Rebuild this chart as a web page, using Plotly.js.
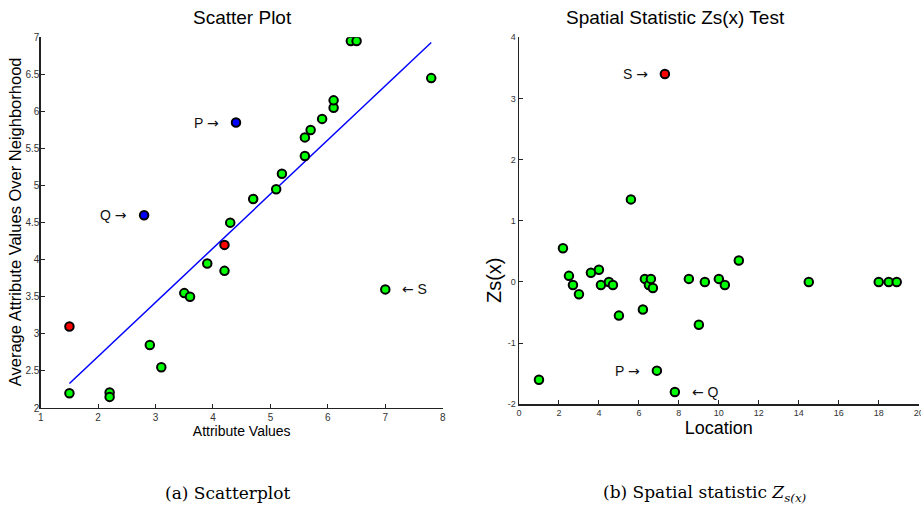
<!DOCTYPE html>
<html>
<head>
<meta charset="utf-8">
<script src="https://cdn.plot.ly/plotly-3.0.1.min.js"></script>
<style>
html,body{margin:0;padding:0;background:#fff;}
#chart{width:921px;height:510px;}
</style>
</head>
<body>
<div id="chart"></div>
<script>
// ---- Data: (a) Scatter plot ----
const scatterGreenX = [1.5, 2.2, 2.2, 2.9, 3.1, 3.5, 3.6, 3.9, 4.2, 4.3, 4.7, 5.1, 5.2, 5.6, 5.6, 5.7, 5.9, 6.1, 6.1, 6.4, 6.5, 7.8, 7.0];
const scatterGreenY = [2.2, 2.21, 2.15, 2.85, 2.55, 3.55, 3.5, 3.95, 3.85, 4.5, 4.82, 4.95, 5.16, 5.4, 5.65, 5.75, 5.9, 6.05, 6.15, 6.95, 6.95, 6.45, 3.6];
const scatterRedX = [1.5, 4.2];
const scatterRedY = [3.1, 4.2];
const scatterBlueX = [4.4, 2.8];
const scatterBlueY = [5.85, 4.6];
const fitLineX = [1.5, 7.8];
const fitLineY = [2.33, 6.93];
const scatterLabels = [
  {name: 'P', x: 4.4, y: 5.85, side: 'left'},
  {name: 'Q', x: 2.8, y: 4.6, side: 'left'},
  {name: 'S', x: 7.0, y: 3.6, side: 'right'}
];
const scatterXTicks = [1, 2, 3, 4, 5, 6, 7, 8];
const scatterYTicks = [2, 2.5, 3, 3.5, 4, 4.5, 5, 5.5, 6, 6.5, 7];

// ---- Data: (b) Spatial statistic Zs(x) ----
const zsGreenX = [1.0, 2.2, 2.5, 2.7, 3.0, 3.6, 4.0, 4.1, 4.5, 4.7, 5.0, 5.6, 6.2, 6.3, 6.5, 6.6, 6.7, 6.9, 7.8, 8.5, 9.0, 9.3, 10.0, 10.3, 11.0, 14.5, 18.0, 18.5, 18.9];
const zsGreenY = [-1.6, 0.55, 0.1, -0.05, -0.2, 0.15, 0.2, -0.05, 0.0, -0.05, -0.55, 1.35, -0.45, 0.05, -0.05, 0.05, -0.1, -1.45, -1.8, 0.05, -0.7, 0.0, 0.05, -0.05, 0.35, 0.0, 0.0, 0.0, 0.0];
const zsRedX = [7.3];
const zsRedY = [3.4];
const zsLabels = [
  {name: 'S', x: 7.3, y: 3.4, side: 'left'},
  {name: 'P', x: 6.9, y: -1.45, side: 'left'},
  {name: 'Q', x: 7.8, y: -1.8, side: 'right'}
];
const zsXTicks = [0, 2, 4, 6, 8, 10, 12, 14, 16, 18, 20];
const zsYTicks = [-2, -1, 0, 1, 2, 3, 4];

// ---- Styling ----
const FONT = 'Liberation Sans, Arial, Helvetica, sans-serif';
const markerStyle = (color) => ({color: color, size: 8.5, line: {color: '#000', width: 2}});

const traces = [
  {x: fitLineX, y: fitLineY, xaxis: 'x', yaxis: 'y', mode: 'lines', line: {color: '#0000ff', width: 1.5}, hoverinfo: 'skip'},
  {x: scatterGreenX, y: scatterGreenY, xaxis: 'x', yaxis: 'y', mode: 'markers', marker: markerStyle('#00ff00')},
  {x: scatterRedX, y: scatterRedY, xaxis: 'x', yaxis: 'y', mode: 'markers', marker: markerStyle('#ff0000')},
  {x: scatterBlueX, y: scatterBlueY, xaxis: 'x', yaxis: 'y', mode: 'markers', marker: markerStyle('#0000ff')},
  {x: zsGreenX, y: zsGreenY, xaxis: 'x2', yaxis: 'y2', mode: 'markers', marker: markerStyle('#00ff00')},
  {x: zsRedX, y: zsRedY, xaxis: 'x2', yaxis: 'y2', mode: 'markers', marker: markerStyle('#ff0000')}
];

const baseAxis = {
  showline: true, linecolor: '#222', linewidth: 1.3,
  ticks: 'inside', ticklen: 4, tickcolor: '#222', tickwidth: 1,
  showgrid: false, zeroline: false, mirror: false,
  tickmode: 'array', ticklabeloverflow: 'allow'
};

const ARROW_R = '<span style="font-family:DejaVu Sans">\u2192</span>';
const ARROW_L = '<span style="font-family:DejaVu Sans">\u2190</span>';

function labelAnn(l, xref, yref) {
  const left = l.side === 'left';
  return {
    text: left ? (l.name + ' ' + ARROW_R) : (ARROW_L + ' ' + l.name),
    x: l.x, y: l.y, xref: xref, yref: yref, showarrow: false,
    xanchor: left ? 'right' : 'left', yanchor: 'middle',
    xshift: left ? -15 : 15,
    font: {family: FONT, size: 14, color: '#111'}
  };
}

const annotations = [
  {text: 'Scatter Plot', x: 0.2628, y: 0.965, xref: 'paper', yref: 'paper', showarrow: false,
   xanchor: 'center', yanchor: 'middle', font: {family: FONT, size: 19, color: '#000'}},
  {text: 'Spatial Statistic Zs(x) Test', x: 0.733, y: 0.965, xref: 'paper', yref: 'paper', showarrow: false,
   xanchor: 'center', yanchor: 'middle', font: {family: FONT, size: 19, color: '#000'}},
  {text: 'Average Attribute Values Over Neighborhood', x: 0.0165, y: 0.5647, xref: 'paper', yref: 'paper', showarrow: false, textangle: -90,
   xanchor: 'center', yanchor: 'middle', font: {family: FONT, size: 16.5, color: '#000'}},
  {text: 'Zs(x)', x: 0.5364, y: 0.451, xref: 'paper', yref: 'paper', showarrow: false, textangle: -90,
   xanchor: 'center', yanchor: 'middle', font: {family: FONT, size: 20, color: '#000'}},
  {text: '(a) Scatterplot', x: 0.2476, y: 0.033, xref: 'paper', yref: 'paper', showarrow: false,
   xanchor: 'center', yanchor: 'middle', font: {family: 'DejaVu Serif, serif', size: 17, color: '#000'}},
  {text: '(b) Spatial statistic <i>Z</i><sub><i>s(x)</i></sub>', x: 0.7655, y: 0.033, xref: 'paper', yref: 'paper', showarrow: false,
   xanchor: 'center', yanchor: 'middle', font: {family: 'DejaVu Serif, serif', size: 17, color: '#000'}}
];
scatterLabels.forEach(l => annotations.push(labelAnn(l, 'x', 'y')));
zsLabels.forEach(l => annotations.push(labelAnn(l, 'x2', 'y2')));

const layout = {
  width: 921, height: 510,
  margin: {l: 0, r: 0, t: 0, b: 0},
  paper_bgcolor: '#fff', plot_bgcolor: '#fff',
  showlegend: false,
  font: {family: FONT},
  xaxis: Object.assign({}, baseAxis, {
    domain: [0.0442, 0.4807], range: [1, 8], anchor: 'y',
    tickvals: scatterXTicks, ticktext: scatterXTicks.map(String),
    tickfont: {family: FONT, size: 10, color: '#333'},
    title: {text: 'Attribute Values', font: {family: FONT, size: 14, color: '#000'}, standoff: 3}
  }),
  yaxis: Object.assign({}, baseAxis, {
    domain: [0.2, 0.9268], range: [2, 7], anchor: 'x',
    tickvals: scatterYTicks, ticktext: scatterYTicks.map(String),
    tickfont: {family: FONT, size: 10, color: '#333'},
    ticklabelstandoff: -2
  }),
  xaxis2: Object.assign({}, baseAxis, {
    domain: [0.5635, 0.9975], range: [0, 20], anchor: 'y2',
    tickvals: zsXTicks, ticktext: zsXTicks.map(String),
    tickfont: {family: FONT, size: 9, color: '#333'},
    title: {text: 'Location', font: {family: FONT, size: 18, color: '#000'}, standoff: 2}
  }),
  yaxis2: Object.assign({}, baseAxis, {
    domain: [0.2073, 0.9268], range: [-2, 4], anchor: 'x2',
    tickvals: zsYTicks, ticktext: zsYTicks.map(String),
    tickfont: {family: FONT, size: 9, color: '#333'}
  }),
  annotations: annotations
};

Plotly.newPlot('chart', traces, layout, {displayModeBar: false, staticPlot: true});
</script>
</body>
</html>
